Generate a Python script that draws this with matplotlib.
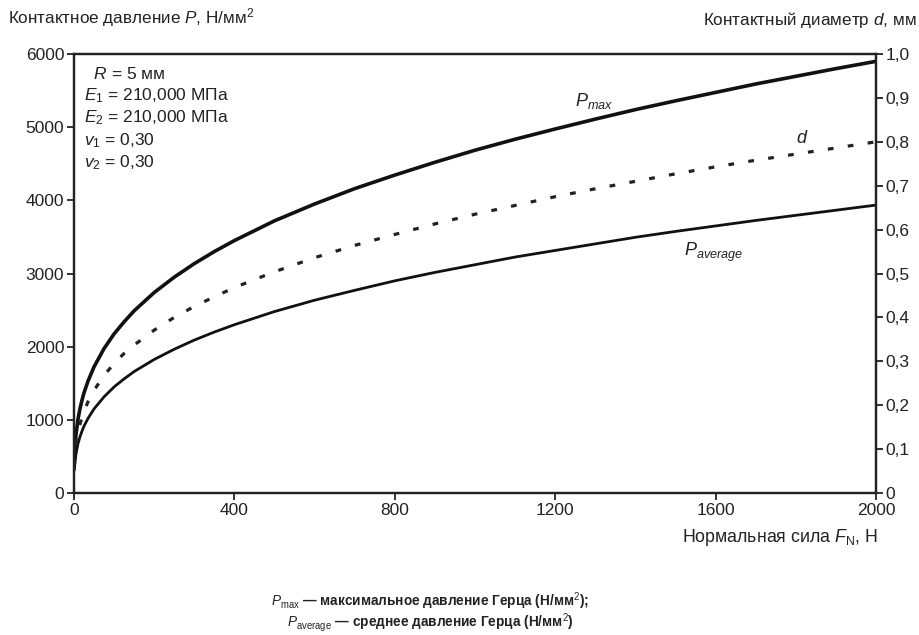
import matplotlib
matplotlib.use("Agg")
import matplotlib.pyplot as plt
from matplotlib.ticker import FixedLocator

plt.rcParams['font.family'] = ['Liberation Sans', 'DejaVu Sans']
plt.rcParams['mathtext.fontset'] = 'custom'
plt.rcParams['mathtext.rm'] = 'Liberation Sans'
plt.rcParams['mathtext.it'] = 'Liberation Sans:italic'
plt.rcParams['mathtext.bf'] = 'Liberation Sans:bold'

# Data
force = [1, 2, 5, 10, 15, 20, 25, 35, 50, 75, 100, 125, 150, 200, 250, 300, 350,
         400, 500, 600, 700, 800, 900, 1000, 1100, 1200, 1300, 1400, 1500, 1600,
         1700, 1800, 1900, 2000]
p_max = [470, 590, 800, 1010, 1155, 1270, 1370, 1530, 1725, 1975, 2175, 2340,
         2490, 2740, 2950, 3135, 3300, 3450, 3720, 3950, 4160, 4345, 4520, 4685,
         4835, 4975, 5110, 5240, 5360, 5475, 5590, 5695, 5800, 5900]
p_average = [315, 395, 535, 675, 770, 847, 915, 1020, 1150, 1315, 1450, 1560,
             1660, 1825, 1965, 2090, 2200, 2300, 2480, 2635, 2770, 2900, 3015,
             3120, 3225, 3315, 3405, 3495, 3575, 3650, 3725, 3795, 3865, 3935]
diameter = [0.064, 0.080, 0.108, 0.137, 0.157, 0.172, 0.186, 0.208, 0.234, 0.268,
            0.295, 0.318, 0.337, 0.371, 0.400, 0.425, 0.447, 0.468, 0.504, 0.536,
            0.564, 0.589, 0.613, 0.635, 0.655, 0.675, 0.693, 0.710, 0.727, 0.743,
            0.758, 0.772, 0.786, 0.800]

x_ticks = [0, 400, 800, 1200, 1600, 2000]
y_ticks = [0, 1000, 2000, 3000, 4000, 5000, 6000]
y2_ticks = [0, 0.1, 0.2, 0.3, 0.4, 0.5, 0.6, 0.7, 0.8, 0.9, 1.0]
y2_labels = ["0", "0,1", "0,2", "0,3", "0,4", "0,5", "0,6", "0,7", "0,8", "0,9", "1,0"]

fig = plt.figure(figsize=(9.19, 6.35), dpi=100)
ax = fig.add_axes([74/919, 1-493/635, (876-74)/919, (493-54)/635])
ax2 = ax.twinx()

col = '#111111'
ax.plot(force, p_max, color=col, lw=2.6, solid_capstyle='round', solid_joinstyle='round')
ax.plot(force, p_average, color=col, lw=2.0, solid_capstyle='round', solid_joinstyle='round')
ax2.plot(force, diameter, color='#222222', lw=2.3, linestyle=(0, (1.8, 4.5)))

ax.set_xlim(0, 2000)
ax.set_ylim(0, 6000)
ax2.set_ylim(0, 1.0)

ax.xaxis.set_major_locator(FixedLocator(x_ticks))
ax.yaxis.set_major_locator(FixedLocator(y_ticks))
ax2.yaxis.set_major_locator(FixedLocator(y2_ticks))
ax2.set_yticklabels(y2_labels)

fs = 12.5
for a in (ax, ax2):
    for s in a.spines.values():
        s.set_linewidth(1.6)
        s.set_color('#222222')
ax.tick_params(axis='both', direction='out', length=5, width=1.3, labelsize=fs,
               colors='#222222', pad=2)
ax2.tick_params(axis='y', direction='out', length=5, width=1.3, labelsize=fs,
                colors='#222222', pad=2)

# Axis titles
fig.text(8/919, 1-18/635, "Контактное давление $P$, Н/мм$^2$", fontsize=12.3,
         ha='left', va='center', color='#222222')
fig.text(917/919, 1-20/635, "Контактный диаметр $d$, мм", fontsize=12.3,
         ha='right', va='center', color='#222222')
fig.text(878/919, 1-538/635, "Нормальная сила $F_\\mathrm{N}$, Н", fontsize=12.8,
         ha='right', va='center', color='#222222')

# Parameter block
params = ["  $R$ = 5 мм", "$E_1$ = 210,000 МПа", "$E_2$ = 210,000 МПа",
          "$v_1$ = 0,30", "$v_2$ = 0,30"]
for i, t in enumerate(params):
    ax.text(0.012, 0.955 - i*0.0505, t, transform=ax.transAxes, fontsize=12.5,
            ha='left', va='center', color='#222222')

# Curve labels
ax.text(1250, 5360, "$P_{max}$", fontsize=13, ha='left', va='center', color='#222222')
ax.text(1800, 4845, "$d$", fontsize=13, ha='left', va='center', color='#222222')
ax.text(1520, 3290, "$P_{average}$", fontsize=13, ha='left', va='center', color='#222222')

# Footnote
fig.text(430/919, 1-601/635, "$P_\\mathrm{max}$ — максимальное давление Герца (Н/мм$^2$);",
         fontsize=9.8, ha='center', va='center', color='#222222', fontweight='bold')
fig.text(430/919, 1-623/635, "$P_\\mathrm{average}$ — среднее давление Герца (Н/мм$^2$)",
         fontsize=9.8, ha='center', va='center', color='#222222', fontweight='bold')

fig.savefig("out.png", dpi=100, facecolor='white')
